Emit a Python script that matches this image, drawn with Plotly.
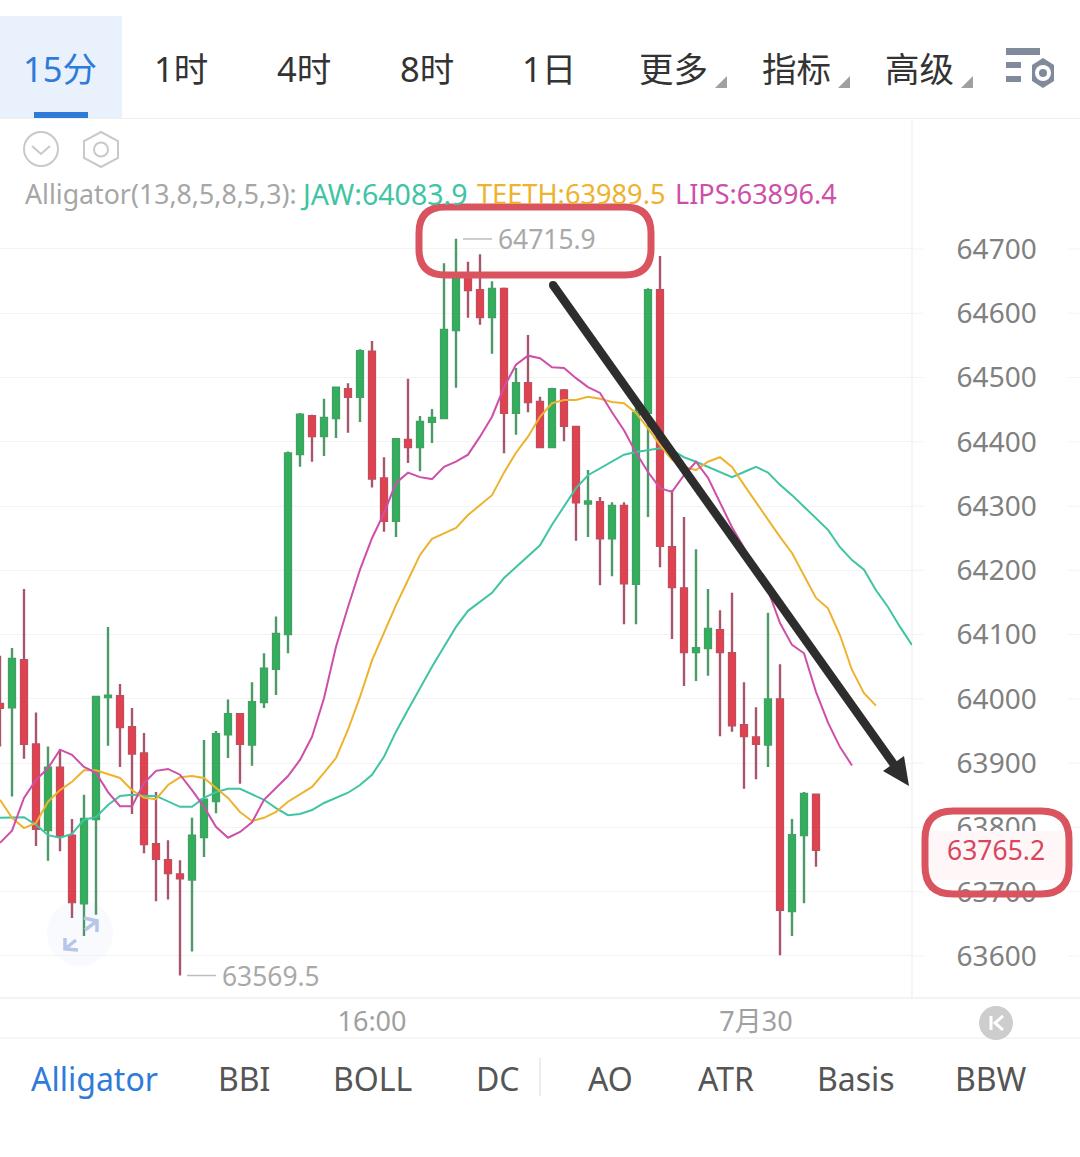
import plotly.graph_objects as go

W, H = 1080, 1157

# ---- data ----
opens = [63992,63987,64060,63929,63796,63893,63787,63682,63813,64003,64004,63956,63915,63774,63749,63727,63719,63785,63841,63945,63976,63929,63995,64047,64101,64381,64440,64409,64437,64482,64470,64540,64343,64277,64403,64392,64431,64437,64574,64660,64636,64594,64638,64445,64491,64462,64392,64480,64423,64304,64306,64250,64300,64179,64445,64636,64236,64172,64073,64079,64107,64071,63959,63940,63929,63999,63670,63788,63851]
highs = [64067,64079,64171,63979,63926,63921,63813,63851,64004,64112,64023,63986,63947,63855,63780,63749,63815,63936,63950,63999,63978,64026,64071,64128,64385,64445,64442,64467,64485,64491,64544,64557,64376,64405,64498,64440,64451,64678,64715.9,64680,64692,64650,64640,64515,64566,64470,64484,64482,64425,64356,64314,64306,64306,64453,64639,64689,64325,64283,64233,64171,64138,64165,64026,63987,64134,64054,63813,63855,63852]
lows = [63926,63848,63907,63771,63748,63763,63659,63631,63664,63927,63894,63821,63760,63685,63688,63569.5,63607,63754,63822,63908,63868,63896,63986,64006,64071,64361,64369,64378,64406,64414,64431,64329,64260,64252,64367,64354,64398,64436,64484,64593,64582,64537,64382,64411,64446,64391,64390,64401,64246,64252,64177,64191,64116,64116,64283,64205,64093,64020,64028,64036,63942,63949,63860,63875,63894,63601,63631,63682,63739]
closes = [63986,64062,63930,63798,63893,63787,63684,63813,64003,64005,63956,63915,63774,63751,63729,63721,63787,63843,63945,63976,63930,63995,64047,64101,64382,64442,64409,64437,64484,64470,64541,64343,64277,64404,64392,64431,64437,64574,64655,64636,64594,64638,64445,64491,64462,64392,64482,64425,64306,64307,64250,64300,64180,64445,64636,64238,64174,64073,64079,64109,64073,63959,63942,63930,63999,63672,63788,63852,63765.2]

jaw = [63815,63816,63816,63804,63788,63784,63790,63812,63816,63835,63849,63851,63849,63849,63840,63832,63832,63846,63855,63860,63860,63851,63843,63830,63819,63821,63827,63838,63846,63854,63866,63882,63910,63949,63983,64017,64050,64081,64112,64137,64151,64165,64188,64205,64221,64239,64271,64299,64328,64348,64359,64369,64380,64384,64387,64390,64387,64376,64369,64361,64352,64345,64353,64361,64352,64333,64317,64299,64281,64263,64236,64216,64201,64169,64143,64112,64083.9]
teeth = [63843,63815,63799,63807,63840,63858,63871,63889,63889,63883,63877,63858,63846,63844,63866,63878,63880,63877,63861,63846,63824,63810,63815,63824,63840,63851,63863,63885,63908,63952,64003,64060,64103,64146,64185,64224,64249,64258,64266,64286,64302,64317,64352,64383,64408,64439,64460,64465,64465,64470,64467,64462,64460,64445,64421,64395,64372,64361,64356,64369,64376,64361,64333,64306,64278,64252,64227,64193,64157,64141,64099,64045,64009,63989.5]
lips = [63776,63795,63846,63874,63892,63921,63913,63894,63885,63855,63833,63833,63869,63888,63891,63882,63858,63832,63801,63784,63793,63808,63843,63861,63880,63905,63941,64001,64081,64143,64201,64250,64289,64336,64352,64345,64342,64361,64369,64380,64408,64439,64485,64520,64534,64530,64516,64515,64499,64485,64476,64446,64418,64383,64353,64328,64322,64348,64369,64344,64306,64267,64235,64201,64169,64118,64084,64071,64011,63963,63925,63896.4]

price_ticks = [63600,63700,63800,63900,64000,64100,64200,64300,64400,64500,64600,64700]
time_tick_pos = [31, 63]
time_tick_text = ["16:00", "7月30"]
period_tabs = ["15分","1时","4时","8时","1日","更多","指标","高级"]
indicator_tabs = ["Alligator","BBI","BOLL","DC","AO","ATR","Basis","BBW"]
last_price = 63765.2
high_label = 64715.9
low_label = 63569.5

# ---- styling / layout constants ----
GREEN, RED = "#34AE5C", "#E0434F"
GREEN_W, RED_W = "#4B9A68", "#A8566C"
JAW_C, TEETH_C, LIPS_C = "#3FC4A4", "#EDB32F", "#CE4FA8"
GRID = "#F3F3F3"
FONT = "Noto Sans, Noto Sans CJK SC, sans-serif"
X = lambda px: px / W
Y = lambda py: 1 - py / H
idx = list(range(len(closes)))

fig = go.Figure()
# wicks, then bodies on top
fig.add_trace(go.Candlestick(x=idx, open=opens, high=highs, low=lows, close=closes, whiskerwidth=0,
    increasing=dict(line=dict(color=GREEN_W, width=2.4), fillcolor=GREEN_W),
    decreasing=dict(line=dict(color=RED_W, width=2.4), fillcolor=RED_W), hoverinfo="skip", showlegend=False))
fig.add_trace(go.Candlestick(x=idx, open=opens, close=closes,
    high=[max(a, b) for a, b in zip(opens, closes)], low=[min(a, b) for a, b in zip(opens, closes)],
    whiskerwidth=0,
    increasing=dict(line=dict(color=GREEN, width=1), fillcolor=GREEN),
    decreasing=dict(line=dict(color=RED, width=1), fillcolor=RED), hoverinfo="skip", showlegend=False))
for vals, col in ((jaw, JAW_C), (teeth, TEETH_C), (lips, LIPS_C)):
    fig.add_trace(go.Scatter(x=list(range(len(vals))), y=vals, mode="lines",
                             line=dict(color=col, width=2), hoverinfo="skip", showlegend=False))

shapes, ann = [], []

def rect(x0, y0, x1, y1, fill, layer="above", line=None):
    shapes.append(dict(type="rect", xref="paper", yref="paper", x0=X(x0), x1=X(x1), y0=Y(y0), y1=Y(y1),
                       fillcolor=fill, line=dict(width=0) if line is None else line, layer=layer))

def seg(x0, y0, x1, y1, col, w=1.5, layer="above"):
    shapes.append(dict(type="line", xref="paper", yref="paper", x0=X(x0), x1=X(x1), y0=Y(y0), y1=Y(y1),
                       line=dict(color=col, width=w), layer=layer))

def poly(pts, fill=None, col=None, w=0, close=True, layer="above"):
    d = "M" + " L".join(f"{X(a):.5f},{Y(b):.5f}" for a, b in pts) + (" Z" if close else "")
    shapes.append(dict(type="path", xref="paper", yref="paper", path=d, fillcolor=fill or "rgba(0,0,0,0)",
                       line=dict(color=col or "rgba(0,0,0,0)", width=w), layer=layer))

def circle(cx, cy, r, fill=None, col=None, w=0, layer="above"):
    shapes.append(dict(type="circle", xref="paper", yref="paper", x0=X(cx - r), x1=X(cx + r),
                       y0=Y(cy + r), y1=Y(cy - r), fillcolor=fill or "rgba(0,0,0,0)",
                       line=dict(color=col or "rgba(0,0,0,0)", width=w), layer=layer))

def rrect(x0, y0, x1, y1, r, col, w):
    d = (f"M{X(x0+r):.5f},{Y(y0):.5f} L{X(x1-r):.5f},{Y(y0):.5f} Q{X(x1):.5f},{Y(y0):.5f} {X(x1):.5f},{Y(y0+r):.5f} "
         f"L{X(x1):.5f},{Y(y1-r):.5f} Q{X(x1):.5f},{Y(y1):.5f} {X(x1-r):.5f},{Y(y1):.5f} "
         f"L{X(x0+r):.5f},{Y(y1):.5f} Q{X(x0):.5f},{Y(y1):.5f} {X(x0):.5f},{Y(y1-r):.5f} "
         f"L{X(x0):.5f},{Y(y0+r):.5f} Q{X(x0):.5f},{Y(y0):.5f} {X(x0+r):.5f},{Y(y0):.5f} Z")
    shapes.append(dict(type="path", xref="paper", yref="paper", path=d, line=dict(color=col, width=w), layer="above"))

def text(t, cx, cy, size, col, anchor="center"):
    ann.append(dict(text=t, xref="paper", yref="paper", x=X(cx), y=Y(cy), xanchor=anchor, yanchor="middle",
                    showarrow=False, font=dict(family=FONT, size=size, color=col)))

# grid extensions right of the price axis
for p in price_ticks:
    for a, b in ((912, 923), (1068, 1080)):
        shapes.append(dict(type="line", xref="paper", yref="y", x0=X(a), x1=X(b), y0=p, y1=p,
                           line=dict(color=GRID, width=1), layer="below"))

# top tab bar
rect(0, 16, 122, 118, "#E8F1FC", "below")
rect(34, 112, 88, 118, "#2F7BD9", "below")
seg(0, 118.5, 1080, 118.5, "#F0F0F0", 1, "below")
for t, cx in zip(period_tabs, [60, 181, 304, 427, 549, 673, 796, 919]):
    text(t, cx, 69, 34.5, "#2F7BD9" if t == "15分" else "#333333")
for x0 in (715, 838, 961):
    poly([(x0 + 12, 76), (x0 + 12, 88), (x0, 88)], fill="#A0A0A0")

# settings icon
for x1, y0, y1 in ((1040, 48, 55), (1021, 62, 68), (1021, 76, 82)):
    rect(1006, y0, x1, y1, "#808A9A")
poly([(1043, 58), (1054, 65), (1054, 81), (1043, 88), (1032, 81), (1032, 65)], fill="#808A9A")
circle(1043, 73, 8, fill="#FFFFFF")
circle(1043, 73, 4, fill="#808A9A")

# small chart icons
circle(41, 149, 17, col="#C9C9C9", w=2)
poly([(32, 146), (41, 154), (50, 146)], col="#C9C9C9", w=2, close=False)
poly([(101, 132), (118, 141), (118, 158), (101, 167), (84, 158), (84, 141)], col="#C9C9C9", w=2)
circle(101, 149.5, 7, col="#C9C9C9", w=2)

# legend line
text("Alligator(13,8,5,8,5,3):", 23, 193.5, 26.7, "#A6A6A6", "left")
text(f"JAW:{jaw[-1]}", 298, 193.5, 28.5, JAW_C, "left")
text(f"TEETH:{teeth[-1]}", 475, 193.5, 27.2, TEETH_C, "left")
text(f"LIPS:{lips[-1]}", 673, 193.5, 27, LIPS_C, "left")

# panel rules
seg(912, 120, 912, 998, "#F2F2F2", 1.5, "below")
seg(0, 998, 1080, 998, "#F0F0F0", 1.5, "below")
seg(0, 1038, 1080, 1038, "#F3F3F3", 1.5, "below")
seg(540, 1058, 540, 1096, "#E6E6E6", 1.5, "below")

# expand icon
circle(80, 933, 33, fill="#F8FAFE", layer="below")
C = "#B6C6E6"
poly([(84, 918), (97, 921), (97, 932)], col=C, w=3.5, close=False)
seg(85, 930, 97, 921, C, 3.5)
poly([(65, 938), (65, 949), (78, 950)], col=C, w=3.5, close=False)
seg(65, 949, 76, 940, C, 3.5)

# extreme labels
for v, x0, x1, xt, cy in ((high_label, 463, 492, 496, 239), (low_label, 187, 216, 220, 975.5)):
    seg(x0, cy, x1, cy, "#BDBDBD", 1.5)
    text(f"{v}", xt, cy, 26.4, "#A9A9A9", "left")

# last-price box
rect(925, 831, 1069, 880, "#FFF7F7")
text(f"{last_price}", 996, 850, 26.5, "#D8455E")
rrect(419, 207, 651, 275, 26, "#D9545E", 7)
rrect(925, 811, 1069, 894, 28, "#D9545E", 7)

# hand-drawn arrow
seg(553, 285, 895, 766, "#2D2D2D", 8.5)
circle(553, 285, 4, fill="#2D2D2D")
poly([(909, 786), (883, 771), (904, 756)], fill="#2D2D2D")

# bottom tabs
for t, cx in zip(indicator_tabs, [94, 244, 372, 498, 610, 726, 856, 991]):
    text(t, cx, 1078, 32, "#2F7BD9" if t == "Alligator" else "#555555")

# back-to-latest button
circle(996, 1023, 17, fill="#CDCDCD")
poly([(991, 1016), (991, 1030)], col="#FFFFFF", w=3, close=False)
poly([(1003, 1016), (995, 1023), (1003, 1030)], col="#FFFFFF", w=3, close=False)

fig.update_layout(
    width=W, height=H, autosize=False, margin=dict(l=0, r=0, t=0, b=0),
    paper_bgcolor="#FFFFFF", plot_bgcolor="#FFFFFF", showlegend=False, boxgap=0.3,
    shapes=shapes, annotations=ann, hovermode=False,
    font=dict(family=FONT),
    xaxis=dict(domain=[0, 912 / W], range=[0, 76], rangeslider=dict(visible=False), showgrid=False, zeroline=False,
               showline=False, tickmode="array", tickvals=time_tick_pos, ticktext=time_tick_text,
               ticks="outside", ticklen=0, tickcolor="rgba(0,0,0,0)", tickfont=dict(size=27, color="#A0A0A0")),
    yaxis=dict(domain=[Y(998), Y(120)], range=[63534.6, 64900.7], side="right", anchor="x", showgrid=True,
               gridcolor=GRID, gridwidth=1, zeroline=False, showline=False, tickmode="array",
               tickvals=price_ticks, ticktext=[str(p) for p in price_ticks], ticks="outside", ticklen=38,
               tickcolor="rgba(0,0,0,0)", tickfont=dict(size=28, color="#808080")),
)

fig.write_html("out.html", config=dict(displayModeBar=False),
               post_script="document.body.style.margin='0';document.body.style.overflow='hidden';")
